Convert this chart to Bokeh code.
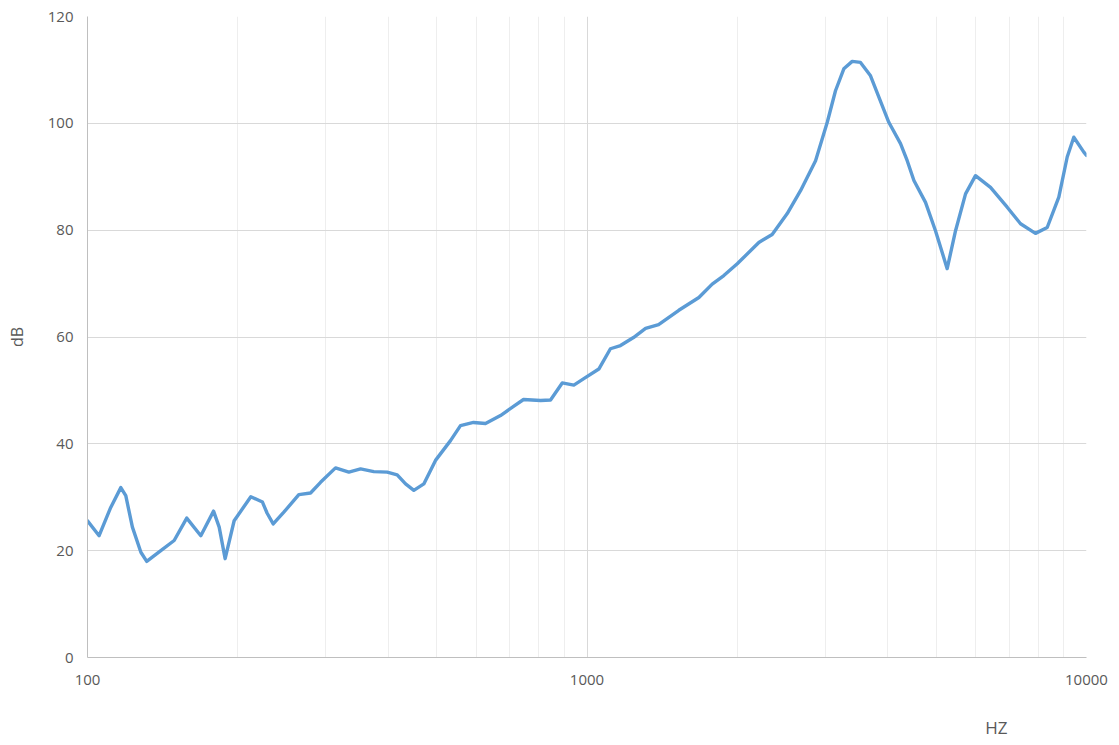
from bokeh.plotting import figure
from bokeh.models import FixedTicker, NumeralTickFormatter, Title
from bokeh.embed import file_html
from bokeh.resources import INLINE

# frequency (Hz) and level (dB)
freq_hz = [100, 105.5, 111.3, 116.6, 119.3, 123.0, 127.9, 131.4, 140.2, 149.1,
           158.0, 168.6, 178.8, 183.5, 188.6, 196.6, 212.3, 224.0, 228.9, 235.4,
           247.2, 264.9, 279.6, 292.8, 313.7, 333.6, 352.1, 374.3, 398.1, 416.9,
           433.3, 450.1, 471.3, 497.4, 533.0, 558.1, 592.6, 626.3, 671.2, 712.7,
           746.3, 807.1, 845.3, 892.1, 941.1, 985.4, 1056, 1114, 1167, 1239,
           1310, 1391, 1527, 1675, 1781, 1879, 1999, 2208, 2348, 2517,
           2676, 2868, 3027, 3144, 3267, 3396, 3528, 3695, 4020, 4243,
           4376, 4513, 4761, 4985, 5261, 5468, 5726, 5995, 6424, 6938,
           7378, 7904, 8343, 8802, 9149, 9431, 9876, 10000]
level_db = [25.6, 22.8, 28.1, 31.8, 30.3, 24.4, 19.7, 18.0, 20.0, 21.9,
            26.1, 22.8, 27.4, 24.4, 18.5, 25.6, 30.1, 29.1, 27.0, 25.0,
            27.2, 30.5, 30.8, 32.8, 35.5, 34.7, 35.3, 34.8, 34.7, 34.2,
            32.5, 31.3, 32.5, 36.9, 40.6, 43.4, 44.0, 43.8, 45.3, 47.0,
            48.3, 48.1, 48.2, 51.4, 51.0, 52.2, 54.0, 57.8, 58.4, 59.9,
            61.6, 62.3, 65.0, 67.4, 69.9, 71.5, 73.7, 77.7, 79.2, 83.1,
            87.4, 93.0, 100.2, 106.1, 110.2, 111.6, 111.4, 108.9, 100.2, 96.2,
            93.0, 89.3, 85.2, 79.9, 72.8, 79.9, 86.8, 90.2, 88.0, 84.3,
            81.2, 79.4, 80.5, 86.2, 93.7, 97.4, 94.6, 94.0]

x_major = [100, 1000, 10000]
x_minor = [200, 300, 400, 500, 600, 700, 800, 900,
           2000, 3000, 4000, 5000, 6000, 7000, 8000, 9000]
y_ticks = [0, 20, 40, 60, 80, 100, 120]

FONT = "Open Sans"
TXT = "#595959"

p = figure(width=1119, height=745, x_axis_type="log",
           x_range=(100, 10000), y_range=(0, 120),
           output_backend="svg", toolbar_location=None,
           min_border_left=87, min_border_right=33,
           min_border_top=16, min_border_bottom=88)
p.outline_line_color = None
p.background_fill_color = "white"

p.line(freq_hz, level_db, line_color="#5B9BD5", line_width=3.4,
       line_join="round", line_cap="round")

p.xaxis.ticker = FixedTicker(ticks=x_major, minor_ticks=x_minor)
p.xaxis.formatter = NumeralTickFormatter(format="0")
p.yaxis.ticker = FixedTicker(ticks=y_ticks)

for ax in (p.xaxis[0], p.yaxis[0]):
    ax.major_tick_out = 0
    ax.major_tick_in = 0
    ax.minor_tick_out = 0
    ax.minor_tick_in = 0
    ax.axis_line_color = "#bfbfbf"
    ax.axis_line_width = 1
    ax.major_label_text_font = FONT
    ax.major_label_text_font_size = "15px"
    ax.major_label_text_color = TXT

p.xaxis.major_label_standoff = 17
p.yaxis.major_label_standoff = 14

# blank x-axis label used only as vertical spacing before the "HZ" caption
p.xaxis.axis_label = " "
p.xaxis.axis_label_text_font_size = "10px"
p.xaxis.axis_label_standoff = 5

p.yaxis.axis_label = "dB"
p.yaxis.axis_label_text_font = FONT
p.yaxis.axis_label_text_font_size = "16px"
p.yaxis.axis_label_text_font_style = "normal"
p.yaxis.axis_label_text_color = TXT
p.yaxis.axis_label_standoff = 17

p.xgrid.grid_line_color = "#d9d9d9"
p.xgrid.minor_grid_line_color = "#eeeeee"
p.ygrid.grid_line_color = "#d9d9d9"

p.add_layout(Title(text="HZ", align="right", offset=79, standoff=14,
                   text_font=FONT, text_font_size="17px",
                   text_font_style="normal", text_color=TXT), "below")

open("out.html", "w").write(file_html(p, INLINE))
